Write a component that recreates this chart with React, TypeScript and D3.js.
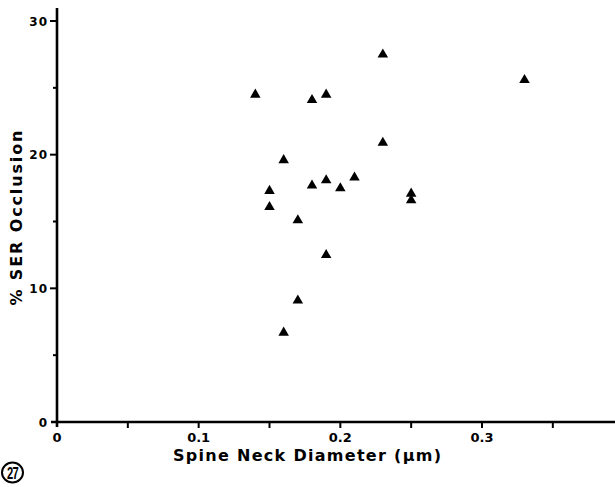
import React, { useEffect, useRef } from "react";
import * as d3 from "d3";

// spine neck diameter (µm) vs % SER occlusion
const neckDiameter = [
  0.14, 0.18, 0.19, 0.23, 0.33, 0.23, 0.16, 0.15, 0.15, 0.18,
  0.19, 0.2, 0.21, 0.25, 0.25, 0.17, 0.19, 0.17, 0.16,
];
const serOcclusion = [
  24.6, 24.2, 24.6, 27.6, 25.7, 21.0, 19.7, 17.4, 16.2, 17.8,
  18.2, 17.6, 18.4, 17.2, 16.7, 15.2, 12.6, 9.2, 6.8,
];

const xTicks = [0, 0.05, 0.1, 0.15, 0.2, 0.25, 0.3, 0.35];
const xLabels = ["0", "", "0.1", "", "0.2", "", "0.3", ""];
const yTicks = [0, 5, 10, 15, 20, 25, 30];
const yLabels = ["0", "", "10", "", "20", "", "30"];

const FONT = "'DejaVu Sans', Verdana, sans-serif";

export default function App() {
  const ref = useRef<SVGSVGElement>(null);

  useEffect(() => {
    const svg = d3.select(ref.current);
    svg.selectAll("*").remove();

    const x = d3.scaleLinear().domain([0, 0.3]).range([57, 482]);
    const y = d3.scaleLinear().domain([0, 30]).range([422, 21]);

    // axis lines
    svg
      .append("line")
      .attr("x1", 51)
      .attr("x2", 615)
      .attr("y1", y(0))
      .attr("y2", y(0))
      .attr("stroke", "#000")
      .attr("stroke-width", 2.6);
    svg
      .append("line")
      .attr("x1", x(0))
      .attr("x2", x(0))
      .attr("y1", 8)
      .attr("y2", 427)
      .attr("stroke", "#000")
      .attr("stroke-width", 2.6);

    // x ticks (below the axis)
    const xg = svg.append("g");
    xg.selectAll("line")
      .data(xTicks.slice(1))
      .enter()
      .append("line")
      .attr("x1", (d) => x(d))
      .attr("x2", (d) => x(d))
      .attr("y1", y(0))
      .attr("y2", y(0) + 6)
      .attr("stroke", "#000")
      .attr("stroke-width", 2);
    xg.selectAll("text")
      .data(xTicks)
      .enter()
      .append("text")
      .attr("x", (d) => x(d))
      .attr("y", 442)
      .attr("text-anchor", "middle")
      .attr("font-family", FONT)
      .attr("font-weight", "bold")
      .attr("font-size", 13)
      .text((d, i) => xLabels[i]);

    // y ticks (left of the axis)
    const yg = svg.append("g");
    yg.selectAll("line")
      .data(yTicks.slice(1))
      .enter()
      .append("line")
      .attr("x1", x(0))
      .attr("x2", (d, i) => x(0) - (yLabels[i + 1] ? 7 : 4))
      .attr("y1", (d) => y(d))
      .attr("y2", (d) => y(d))
      .attr("stroke", "#000")
      .attr("stroke-width", 2);
    yg.selectAll("text")
      .data(yTicks)
      .enter()
      .append("text")
      .attr("x", 48)
      .attr("y", (d) => y(d) + 4.5)
      .attr("text-anchor", "end")
      .attr("font-family", FONT)
      .attr("font-weight", "bold")
      .attr("font-size", 12)
      .attr("letter-spacing", 1)
      .text((d, i) => yLabels[i]);

    // data points
    const tri = d3.symbol().type(d3.symbolTriangle).size(48);
    svg
      .append("g")
      .selectAll("path")
      .data(neckDiameter.map((d, i) => [d, serOcclusion[i]]))
      .enter()
      .append("path")
      .attr("d", tri)
      .attr("transform", (d) => `translate(${x(d[0])},${y(d[1]) + 1.5})`)
      .attr("fill", "#000");

    // axis titles
    svg
      .append("text")
      .attr("x", 307)
      .attr("y", 461)
      .attr("text-anchor", "middle")
      .attr("font-family", FONT)
      .attr("font-weight", "bold")
      .attr("font-size", 16)
      .attr("textLength", 268)
      .attr("lengthAdjust", "spacing")
      .text("Spine Neck Diameter (μm)");
    svg
      .append("text")
      .attr("transform", "translate(22,218) rotate(-90)")
      .attr("text-anchor", "middle")
      .attr("font-family", FONT)
      .attr("font-weight", "bold")
      .attr("font-size", 16)
      .attr("textLength", 175)
      .attr("lengthAdjust", "spacing")
      .text("% SER Occlusion");

    // figure number
    svg
      .append("ellipse")
      .attr("cx", 12.5)
      .attr("cy", 472.5)
      .attr("rx", 10.5)
      .attr("ry", 10)
      .attr("fill", "none")
      .attr("stroke", "#000")
      .attr("stroke-width", 2);
    svg
      .append("text")
      .attr("transform", "translate(12.5,478.5) scale(0.7,1)")
      .attr("text-anchor", "middle")
      .attr("font-family", "'Liberation Sans', Arial, sans-serif")
      .attr("font-weight", "bold")
      .attr("font-size", 16)
      .attr("letter-spacing", -1)
      .text("27");
  }, []);

  return (
    <svg
      ref={ref}
      width={615}
      height={487}
      style={{ position: "absolute", left: 0, top: 0, background: "#fff" }}
    />
  );
}
